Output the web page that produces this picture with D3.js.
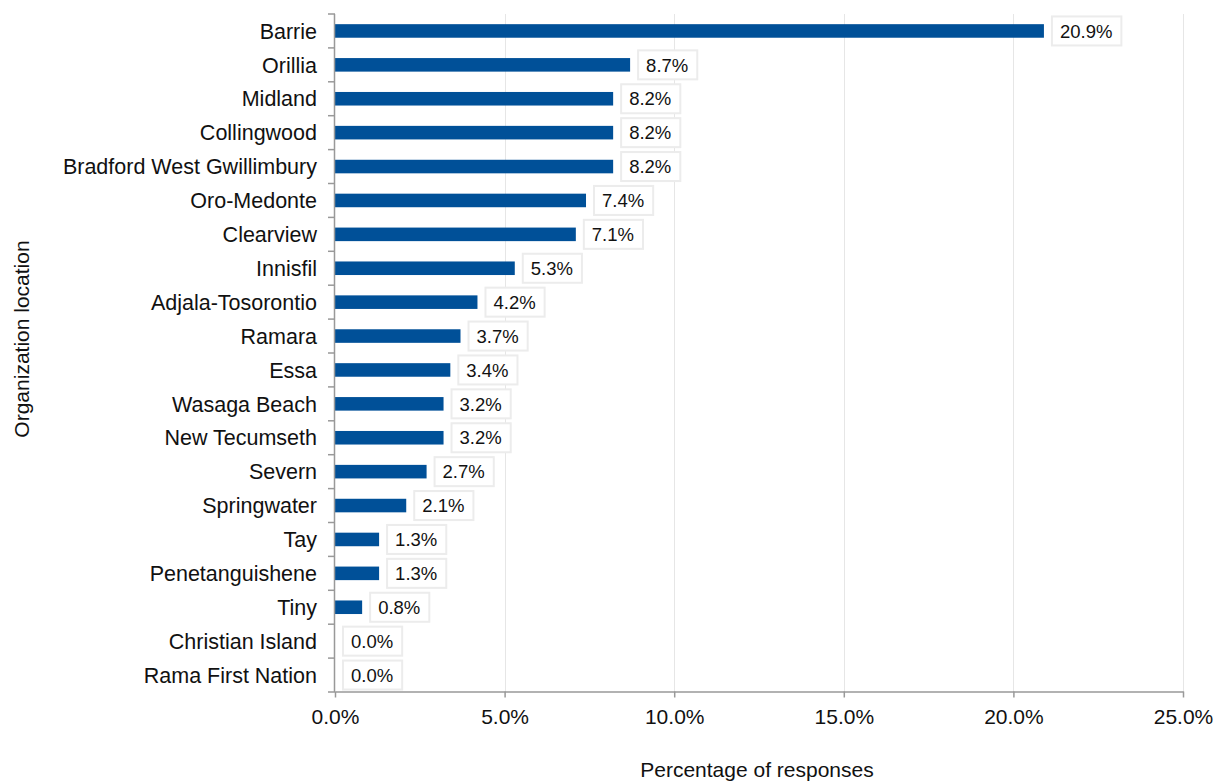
<!DOCTYPE html>
<html>
<head>
<meta charset="utf-8">
<script src="https://cdn.jsdelivr.net/npm/d3@7"></script>
<style>
  html, body { margin: 0; padding: 0; background: #fff; }
  svg { display: block; font-family: "Liberation Sans", Arial, sans-serif; }
</style>
</head>
<body>
<svg id="chart" width="1221" height="783"></svg>
<script>
// Survey responses by organization location (share of all responses, %)
const locations = [
  "Barrie", "Orillia", "Midland", "Collingwood", "Bradford West Gwillimbury",
  "Oro-Medonte", "Clearview", "Innisfil", "Adjala-Tosorontio", "Ramara",
  "Essa", "Wasaga Beach", "New Tecumseth", "Severn", "Springwater",
  "Tay", "Penetanguishene", "Tiny", "Christian Island", "Rama First Nation"
];
const shares = [
  20.9, 8.7, 8.2, 8.2, 8.2,
  7.4, 7.1, 5.3, 4.2, 3.7,
  3.4, 3.2, 3.2, 2.7, 2.1,
  1.3, 1.3, 0.8, 0.0, 0.0
];
const xTicks = [0, 5, 10, 15, 20, 25];

const data = locations.map((name, i) => ({ name, value: shares[i] }));

const svg = d3.select("#chart");
const plotLeft = 335, plotRight = 1183, plotTop = 14, plotBottom = 692;

const x = d3.scaleLinear().domain([0, 25]).range([plotLeft, plotRight]);
const y = d3.scaleBand().domain(locations).range([plotTop, plotBottom]).paddingInner(0.6).paddingOuter(0.3);

// vertical gridlines
svg.append("g")
  .selectAll("line")
  .data(xTicks.slice(1))
  .join("line")
  .attr("x1", d => Math.round(x(d)) + 0.5)
  .attr("x2", d => Math.round(x(d)) + 0.5)
  .attr("y1", plotTop)
  .attr("y2", plotBottom)
  .attr("stroke", "#e6e6e6")
  .attr("stroke-width", 1);

// bars
svg.append("g")
  .selectAll("rect")
  .data(data)
  .join("rect")
  .attr("x", x(0))
  .attr("y", d => y(d.name))
  .attr("width", d => x(d.value) - x(0))
  .attr("height", y.bandwidth())
  .attr("fill", "#005098");

// y axis: line, ticks at category boundaries, labels
const yAxis = svg.append("g");
yAxis.append("line")
  .attr("x1", plotLeft - 0.5).attr("x2", plotLeft - 0.5)
  .attr("y1", plotTop).attr("y2", plotBottom)
  .attr("stroke", "#999").attr("stroke-width", 1.5);
const step = (plotBottom - plotTop) / locations.length;
yAxis.selectAll("line.tick")
  .data(d3.range(locations.length + 1))
  .join("line")
  .attr("class", "tick")
  .attr("x1", plotLeft - 7).attr("x2", plotLeft)
  .attr("y1", i => plotTop + i * step)
  .attr("y2", i => plotTop + i * step)
  .attr("stroke", "#999").attr("stroke-width", 1.5);
yAxis.selectAll("text")
  .data(data)
  .join("text")
  .attr("x", 317)
  .attr("y", d => y(d.name) + y.bandwidth() / 2)
  .attr("dy", "0.36em")
  .attr("text-anchor", "end")
  .attr("font-size", 21.5)
  .attr("fill", "#111")
  .text(d => d.name);

// x axis
const xAxis = d3.axisBottom(x)
  .tickValues(xTicks)
  .tickFormat(d => d.toFixed(1) + "%")
  .tickSizeInner(6)
  .tickSizeOuter(0)
  .tickPadding(12);
const gx = svg.append("g")
  .attr("transform", `translate(0,${plotBottom - 0.5})`)
  .call(xAxis);
gx.select(".domain").attr("stroke", "#999").attr("stroke-width", 1.5);
gx.selectAll(".tick line").attr("stroke", "#999").attr("stroke-width", 1.5);
gx.selectAll(".tick text")
  .attr("font-size", 21)
  .attr("font-family", "Liberation Sans, Arial, sans-serif")
  .attr("fill", "#111");

// value labels in outlined boxes
const fmt = v => v.toFixed(1) + "%";
const labels = svg.append("g")
  .selectAll("g")
  .data(data)
  .join("g")
  .attr("transform", d => `translate(${x(d.value) + 8},${y(d.name) + y.bandwidth() / 2})`);
labels.append("text")
  .attr("x", 8)
  .attr("dy", "0.36em")
  .attr("font-size", 18.5)
  .attr("fill", "#111")
  .text(d => fmt(d.value));
labels.each(function () {
  const g = d3.select(this);
  const w = g.select("text").node().getComputedTextLength();
  g.insert("rect", "text")
    .attr("x", 0)
    .attr("y", -14.5)
    .attr("width", w + 17)
    .attr("height", 29)
    .attr("fill", "#fff")
    .attr("stroke", "#ececec")
    .attr("stroke-width", 2);
});

// axis titles
svg.append("text")
  .attr("x", 757)
  .attr("y", 777)
  .attr("text-anchor", "middle")
  .attr("font-size", 21)
  .attr("fill", "#111")
  .text("Percentage of responses");
svg.append("text")
  .attr("transform", "translate(29,339) rotate(-90)")
  .attr("text-anchor", "middle")
  .attr("font-size", 21)
  .attr("fill", "#111")
  .text("Organization location");
</script>
</body>
</html>
